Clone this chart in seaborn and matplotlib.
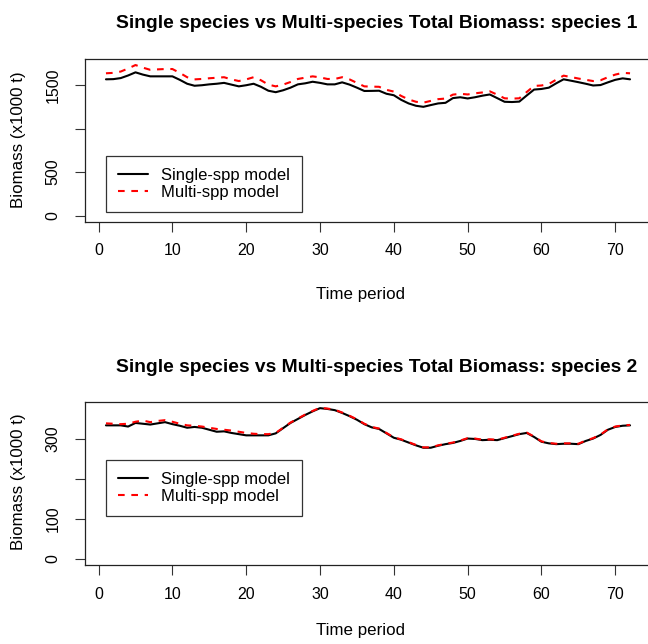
import numpy as np
import pandas as pd
import matplotlib
matplotlib.use("Agg")
import matplotlib.pyplot as plt
import seaborn as sns

time = list(range(1, 73))

sp1_single = [1566, 1568, 1580, 1610, 1646, 1620, 1600, 1600, 1600, 1600, 1560, 1515,
              1492, 1498, 1508, 1515, 1525, 1505, 1485, 1498, 1515, 1480, 1435, 1418,
              1440, 1470, 1508, 1520, 1538, 1525, 1508, 1508, 1531, 1505, 1470, 1432,
              1433, 1435, 1400, 1383, 1330, 1289, 1262, 1250, 1270, 1289, 1296, 1350,
              1360, 1346, 1360, 1378, 1392, 1350, 1308, 1305, 1310, 1380, 1448, 1455,
              1470, 1520, 1566, 1550, 1533, 1515, 1495, 1500, 1531, 1560, 1577, 1566]
sp1_multi = [1635, 1640, 1655, 1690, 1730, 1700, 1675, 1680, 1684, 1684, 1640, 1590,
             1565, 1570, 1578, 1584, 1590, 1565, 1546, 1565, 1590, 1555, 1505, 1485,
             1505, 1535, 1570, 1585, 1600, 1588, 1570, 1570, 1590, 1565, 1525, 1485,
             1482, 1480, 1445, 1425, 1375, 1335, 1308, 1298, 1318, 1338, 1345, 1390,
             1400, 1392, 1405, 1415, 1428, 1390, 1348, 1344, 1348, 1420, 1490, 1495,
             1512, 1562, 1608, 1592, 1575, 1560, 1546, 1555, 1590, 1620, 1640, 1635]
sp2_single = [334, 334, 334, 331, 340, 338, 336, 339, 342, 337, 333, 328,
              330, 328, 323, 318, 319, 315, 312, 309, 309, 309, 309, 314,
              327, 340, 350, 360, 369, 377, 375, 372, 365, 357, 348, 337,
              329, 325, 314, 303, 298, 291, 284, 278, 278, 283, 287, 290,
              295, 301, 300, 297, 298, 297, 302, 307, 312, 315, 305, 293,
              289, 287, 288, 288, 287, 295, 301, 310, 323, 330, 333, 334]
sp2_multi = [339, 338, 337, 338, 343, 346, 342, 345, 347, 343, 338, 334,
             333, 331, 328, 325, 323, 321, 318, 315, 313, 312, 312, 315,
             328, 341, 351, 361, 370, 378, 376, 373, 366, 358, 349, 338,
             330, 326, 315, 304, 299, 292, 285, 279, 279, 284, 288, 291,
             296, 302, 301, 298, 299, 298, 303, 308, 313, 316, 306, 294,
             290, 288, 289, 289, 288, 296, 302, 311, 324, 331, 334, 335]

model_names = ["Single-spp model", "Multi-spp model"]
xticks = [0, 10, 20, 30, 40, 50, 60, 70]
yticks1 = [0, 500, 1000, 1500]
yticklabels1 = ["0", "500", "", "1500"]
yticks2 = [0, 100, 200, 300]
yticklabels2 = ["0", "100", "", "300"]
titles = ["Single species vs Multi-species Total Biomass: species 1",
          "Single species vs Multi-species Total Biomass: species 2"]

sns.set_style("white")
plt.rcParams['font.family'] = ['Liberation Sans', 'DejaVu Sans']
plt.rcParams['text.color'] = 'black'
plt.rcParams['xtick.color'] = 'black'
plt.rcParams['ytick.color'] = 'black'

W, H = 648, 644
fig = plt.figure(figsize=(W / 100, H / 100), dpi=100)

def fx(px):
    return px / W

def fy(py):
    return 1 - py / H

panels = [
    dict(single=sp1_single, multi=sp1_multi, top=59, bottom=221.7,
         yt=yticks1, ytl=yticklabels1, title=titles[0], title_y=24, xlab_y=294,
         leg_top=156, ylab_y=140),
    dict(single=sp2_single, multi=sp2_multi, top=401.7, bottom=565,
         yt=yticks2, ytl=yticklabels2, title=titles[1], title_y=367, xlab_y=630,
         leg_top=460, ylab_y=482),
]

left_px, right_px = 85, 651
for p in panels:
    ax = fig.add_axes([fx(left_px), fy(p["bottom"]), (right_px - left_px) / W,
                       (p["bottom"] - p["top"]) / H])
    df = pd.DataFrame({
        "Time": time * 2,
        "Biomass": p["single"] + p["multi"],
        "Model": [model_names[0]] * len(time) + [model_names[1]] * len(time),
    })
    sns.lineplot(data=df, x="Time", y="Biomass", hue="Model", style="Model",
                 palette={model_names[0]: "black", model_names[1]: "#ff0000"},
                 dashes={model_names[0]: "", model_names[1]: (3.2, 3.2)},
                 linewidth=1.5, ax=ax, legend=True)
    vals = p["single"] + p["multi"]
    vmax = max(vals)
    ax.set_xlim(1 - 0.04 * 71, 72 + 0.04 * 71)
    ax.set_ylim(-0.04 * vmax, vmax * 1.04)
    ax.set_xticks(xticks)
    ax.set_xticklabels([str(v) for v in xticks])
    ax.set_yticks(p["yt"])
    ax.set_yticklabels(p["ytl"], rotation=90, va="center")
    ax.tick_params(axis="both", which="major", bottom=True, left=True,
                   direction="out", length=7.5, width=0.8,
                   color="#333333", labelsize=11.5, labelcolor="black")
    ax.tick_params(axis="x", pad=8)
    ax.tick_params(axis="y", pad=10)
    ax.set_xlabel("")
    ax.set_ylabel("")
    for s in ax.spines.values():
        s.set_color("#222222")
        s.set_linewidth(0.9)
    leg_top_frac = (p["bottom"] - p["leg_top"]) / (p["bottom"] - p["top"])
    leg_left_frac = (106 - left_px) / (right_px - left_px)
    leg = ax.legend(loc="upper left", bbox_to_anchor=(leg_left_frac, leg_top_frac),
                    borderaxespad=0, frameon=True, fancybox=False, fontsize=12.0,
                    handlelength=1.8, handletextpad=0.8, borderpad=0.72,
                    labelspacing=0.12, title=None)
    leg.get_frame().set_edgecolor("black")
    leg.get_frame().set_linewidth(0.9)
    for t in leg.get_texts():
        t.set_color("black")
    fig.text(fx(377), fy(p["title_y"]), p["title"], ha="center", va="center",
             fontsize=13.9, fontweight="bold", color="black")
    fig.text(fx(360), fy(p["xlab_y"]), "Time period", ha="center", va="center",
             fontsize=12.2, color="black")
    fig.text(fx(19), fy(p["ylab_y"]), "Biomass (x1000 t)", ha="center", va="center",
             rotation=90, fontsize=12.2, color="black")

fig.savefig("out.png", dpi=100)
